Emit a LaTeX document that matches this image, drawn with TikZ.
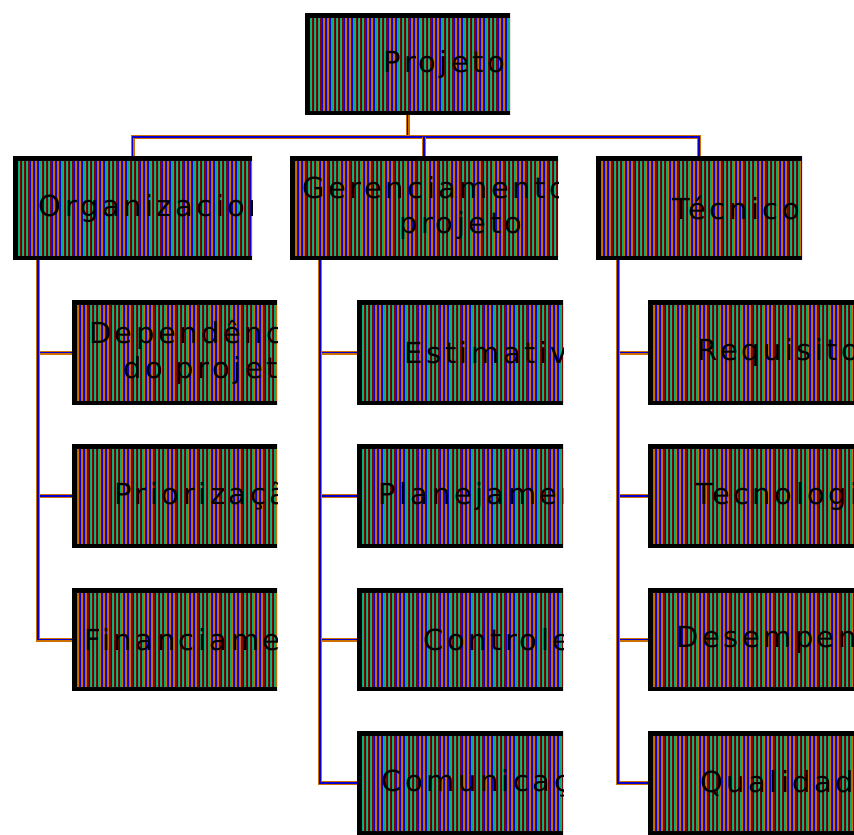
\documentclass[tikz,border=0pt]{standalone}
\usepackage{fontspec}
\setmainfont{DejaVu Sans}[LetterSpace=12]
\definecolor{sA}{RGB}{0,175,115}
\definecolor{sB}{RGB}{205,110,0}
\definecolor{sC}{RGB}{135,0,0}
\definecolor{sD}{RGB}{10,0,205}
\tikzset{
  boxfill/.style={rectangle, inner sep=0pt, outer sep=0pt, draw=none,
    path picture={
      \foreach \i in {0,...,61}{
        \fill[sA] ([xshift=\i*4.4pt]path picture bounding box.south west) rectangle ([xshift=\i*4.4pt+1.15pt]path picture bounding box.north west);
        \fill[sB] ([xshift=\i*4.4pt+1.1pt]path picture bounding box.south west) rectangle ([xshift=\i*4.4pt+2.25pt]path picture bounding box.north west);
        \fill[sC] ([xshift=\i*4.4pt+2.2pt]path picture bounding box.south west) rectangle ([xshift=\i*4.4pt+3.35pt]path picture bounding box.north west);
        \fill[sD] ([xshift=\i*4.4pt+3.3pt]path picture bounding box.south west) rectangle ([xshift=\i*4.4pt+4.45pt]path picture bounding box.north west);
      }
    }},
  boxborder/.style={draw=black, line width=4.5pt, line join=miter},
  lbl/.style={align=center, text=black, inner sep=0pt, font=\fontsize{29}{35}\selectfont},
  conn/.style={draw=sB, line width=1.4pt, double=sD, double distance=1.2pt},
}
\newcommand{\mybox}[6]{%
  \node[boxfill, minimum width={(#4-#2)*1pt}, minimum height={(#5-#3)*1pt}] (#1) at ({(#2+#4)/2},{(#3+#5)/2}) {};
  \draw[boxborder] ([yshift=-2.25pt]#1.north east) -- ([xshift=2.25pt,yshift=-2.25pt]#1.north west)
     -- ([xshift=2.25pt,yshift=2.25pt]#1.south west) -- ([yshift=2.25pt]#1.south east);
  \begin{scope}
    \clip (#1.south west) rectangle (#1.north east);
    \node[lbl] (#1-t) at ([xshift=37pt]#1.center) {#6};
  \end{scope}%
}
\begin{document}
\begin{tikzpicture}[x=1pt,y=-1pt]
\useasboundingbox (0,0) rectangle (854,835);
% top level
\mybox{proj}{305}{13}{510}{115}{Projeto}
\mybox{org}{13}{156}{252}{260}{Organizacional}
\mybox{ger}{290}{156}{558}{260}{Gerenciamento do\\projeto}
\mybox{tec}{596}{156}{802}{260}{Técnico}
% column 1
\mybox{o1}{72}{300}{277}{405}{Dependências\\do projeto}
\mybox{o2}{72}{444}{277}{548}{Priorização}
\mybox{o3}{72}{588}{277}{691}{Financiamento}
% column 2
\mybox{g1}{357}{300}{563}{405}{Estimativa}
\mybox{g2}{357}{444}{563}{548}{Planejamento}
\mybox{g3}{357}{588}{563}{691}{Controle}
\mybox{g4}{357}{731}{563}{835}{Comunicação}
% column 3
\mybox{t1}{648}{300}{854}{405}{Requisitos}
\mybox{t2}{648}{444}{854}{548}{Tecnologia}
\mybox{t3}{648}{588}{854}{691}{Desempenho}
\mybox{t4}{648}{731}{854}{835}{Qualidade}
% connectors
\coordinate (bus) at (407.5,137);
\draw[conn] (proj.south) -- (bus);
\draw[conn] (org.north) -- (org.north |- bus) -- (tec.north |- bus) -- (tec.north);
\draw[conn] (ger.north |- bus) -- (ger.north);
\foreach \c in {o1,o2,o3}{\draw[conn] ([xshift=25pt]org.south west) |- (\c.west);}
\foreach \c in {g1,g2,g3,g4}{\draw[conn] ([xshift=30pt]ger.south west) |- (\c.west);}
\foreach \c in {t1,t2,t3,t4}{\draw[conn] ([xshift=22pt]tec.south west) |- (\c.west);}
\end{tikzpicture}
\end{document}
